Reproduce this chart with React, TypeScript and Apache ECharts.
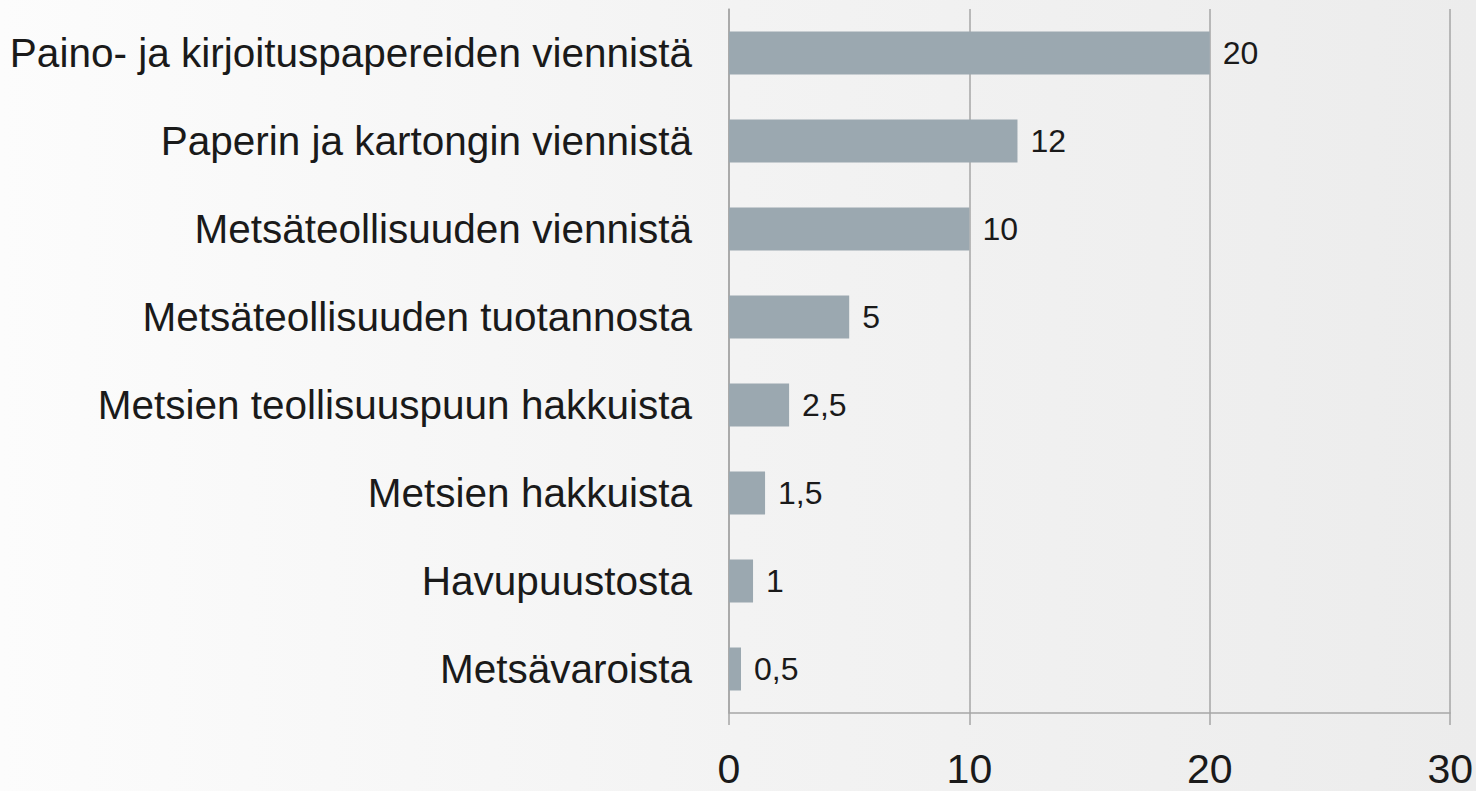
import React, { useEffect, useRef } from "react";
import * as echarts from "echarts";

const categories = [
  "Paino- ja kirjoituspapereiden viennistä",
  "Paperin ja kartongin viennistä",
  "Metsäteollisuuden viennistä",
  "Metsäteollisuuden tuotannosta",
  "Metsien teollisuuspuun hakkuista",
  "Metsien hakkuista",
  "Havupuustosta",
  "Metsävaroista",
];
const values = [20, 12, 10, 5, 2.5, 1.5, 1, 0.5];
const xTicks = [0, 10, 20, 30];

export default function App() {
  const ref = useRef<HTMLDivElement>(null);
  useEffect(() => {
    if (!ref.current) return;
    const chart = echarts.init(ref.current, undefined, { renderer: "svg" });
    chart.setOption({
      animation: false,
      backgroundColor: {
        type: "linear",
        x: 0,
        y: 0,
        x2: 1,
        y2: 0,
        colorStops: [
          { offset: 0, color: "#fcfcfc" },
          { offset: 0.5, color: "#f3f3f3" },
          { offset: 1, color: "#ececec" },
        ],
      },
      grid: { left: 729, right: 23, top: 9, bottom: 78, containLabel: false },
      xAxis: {
        type: "value",
        min: xTicks[0],
        max: xTicks[xTicks.length - 1],
        interval: 10,
        axisLine: { show: true, lineStyle: { color: "#a6a6a6", width: 1.5 } },
        axisTick: { show: true, length: 12, lineStyle: { color: "#a6a6a6", width: 1.5 } },
        splitLine: { show: true, lineStyle: { color: "#a6a6a6", width: 1.5 } },
        axisLabel: {
          fontFamily: "Liberation Sans, Arial, sans-serif",
          fontSize: 41,
          lineHeight: 30,
          color: "#1a1a1a",
          margin: 41,
          formatter: (v: number) => String(v),
        },
      },
      yAxis: {
        type: "category",
        inverse: true,
        data: categories,
        axisLine: { show: true, lineStyle: { color: "#a6a6a6", width: 1.5 } },
        axisTick: { show: false },
        splitLine: { show: false },
        axisLabel: {
          fontFamily: "Liberation Sans, Arial, sans-serif",
          fontSize: 40.5,
          color: "#1a1a1a",
          margin: 37,
        },
      },
      series: [
        {
          type: "bar",
          data: values,
          barWidth: 43,
          itemStyle: { color: "#9ba8b0" },
          label: {
            show: true,
            position: "right",
            distance: 13,
            fontFamily: "Liberation Sans, Arial, sans-serif",
            fontSize: 32,
            color: "#1a1a1a",
            formatter: (p: any) => String(p.value).replace(".", ","),
          },
        },
      ],
    });
    return () => chart.dispose();
  }, []);
  return <div ref={ref} style={{ width: 1476, height: 791, position: "absolute", left: 0, top: 0 }} />;
}
